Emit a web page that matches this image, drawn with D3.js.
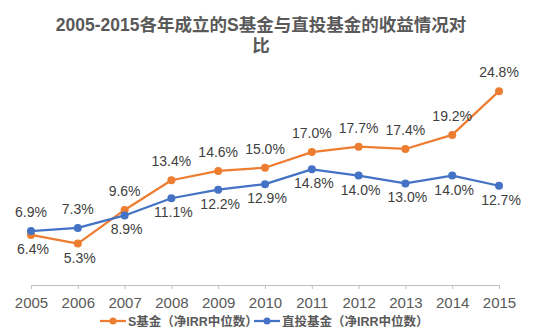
<!DOCTYPE html>
<html><head><meta charset="utf-8">
<script src="https://cdn.jsdelivr.net/npm/d3@7"></script>
<style>body{margin:0;background:#fff;}svg{display:block;}</style>
</head><body>
<svg id="c" width="538" height="335"></svg>
<script>
const years = ["2005","2006","2007","2008","2009","2010","2011","2012","2013","2014","2015"];
const sFund = [6.4, 5.3, 9.6, 13.4, 14.6, 15.0, 17.0, 17.7, 17.4, 19.2, 24.8];
const directFund = [6.9, 7.3, 8.9, 11.1, 12.2, 12.9, 14.8, 14.0, 13.0, 14.0, 12.7];
// label side: true = above point
const sAbove = [false, false, true, true, true, true, true, true, true, true, true];
const dAbove = [true, true, false, false, false, false, false, false, false, false, false];
const seriesNames = ["S基金（净IRR中位数）", "直投基金（净IRR中位数）"];
const titleLines = ["2005-2015各年成立的S基金与直投基金的收益情况对", "比"];

const svg = d3.select("#c");
const font = "'Liberation Sans', Arial, 'Noto Sans CJK SC', sans-serif";
const colors = ["#ED7D31", "#4472C4"];

const x = d3.scalePoint().domain(years).range([31, 499]);
const y = d3.scaleLinear().domain([0, 30]).range([285, 50.5]);

// title
const t = svg.append("text").attr("text-anchor", "middle")
  .attr("font-family", font).attr("font-size", 17.5).attr("font-weight", "bold").attr("fill", "#595959");
titleLines.forEach((l, i) => t.append("tspan").attr("x", 261).attr("y", 31 + i * 21).text(l));

// x axis
const ax = svg.append("g").attr("transform", "translate(0,285)")
  .call(d3.axisBottom(x).tickSize(4).tickPadding(8));
ax.select(".domain").attr("stroke", "#BFBFBF").attr("d", "M31,0.5H499");
ax.selectAll(".tick line").attr("stroke", "#BFBFBF");
ax.selectAll(".tick text").attr("font-family", font).attr("font-size", 15).attr("fill", "#595959");

const line = d3.line().x((d, i) => x(years[i])).y(d => y(d));
[sFund, directFund].forEach((vals, si) => {
  const g = svg.append("g");
  g.append("path").datum(vals).attr("d", line).attr("fill", "none")
    .attr("stroke", colors[si]).attr("stroke-width", 2.25).attr("stroke-linejoin", "round");
  g.selectAll("circle").data(vals).join("circle")
    .attr("cx", (d, i) => x(years[i])).attr("cy", d => y(d)).attr("r", 4).attr("fill", colors[si]);
  const above = si === 0 ? sAbove : dAbove;
  g.selectAll("text").data(vals).join("text")
    .attr("x", (d, i) => Math.min(x(years[i]), 499) + (above[i] ? 0 : 2))
    .attr("y", (d, i) => y(d) + (above[i] ? -14 : 19))
    .attr("text-anchor", "middle").attr("font-family", font).attr("font-size", 14)
    .attr("fill", "#404040")
    .text(d => d.toFixed(1) + "%");
});

// legend
const lg = svg.append("g");
const lx = [100, 254];
seriesNames.forEach((n, i) => {
  lg.append("line").attr("x1", lx[i]).attr("x2", lx[i] + 26).attr("y1", 321).attr("y2", 321)
    .attr("stroke", colors[i]).attr("stroke-width", 2.25);
  lg.append("circle").attr("cx", lx[i] + 13).attr("cy", 321).attr("r", 3.5).attr("fill", colors[i]);
  lg.append("text").attr("x", lx[i] + 28).attr("y", 325.5).attr("font-family", font)
    .attr("font-size", 12.5).attr("font-weight", "bold").attr("fill", "#595959").text(n);
});
</script>
</body></html>
